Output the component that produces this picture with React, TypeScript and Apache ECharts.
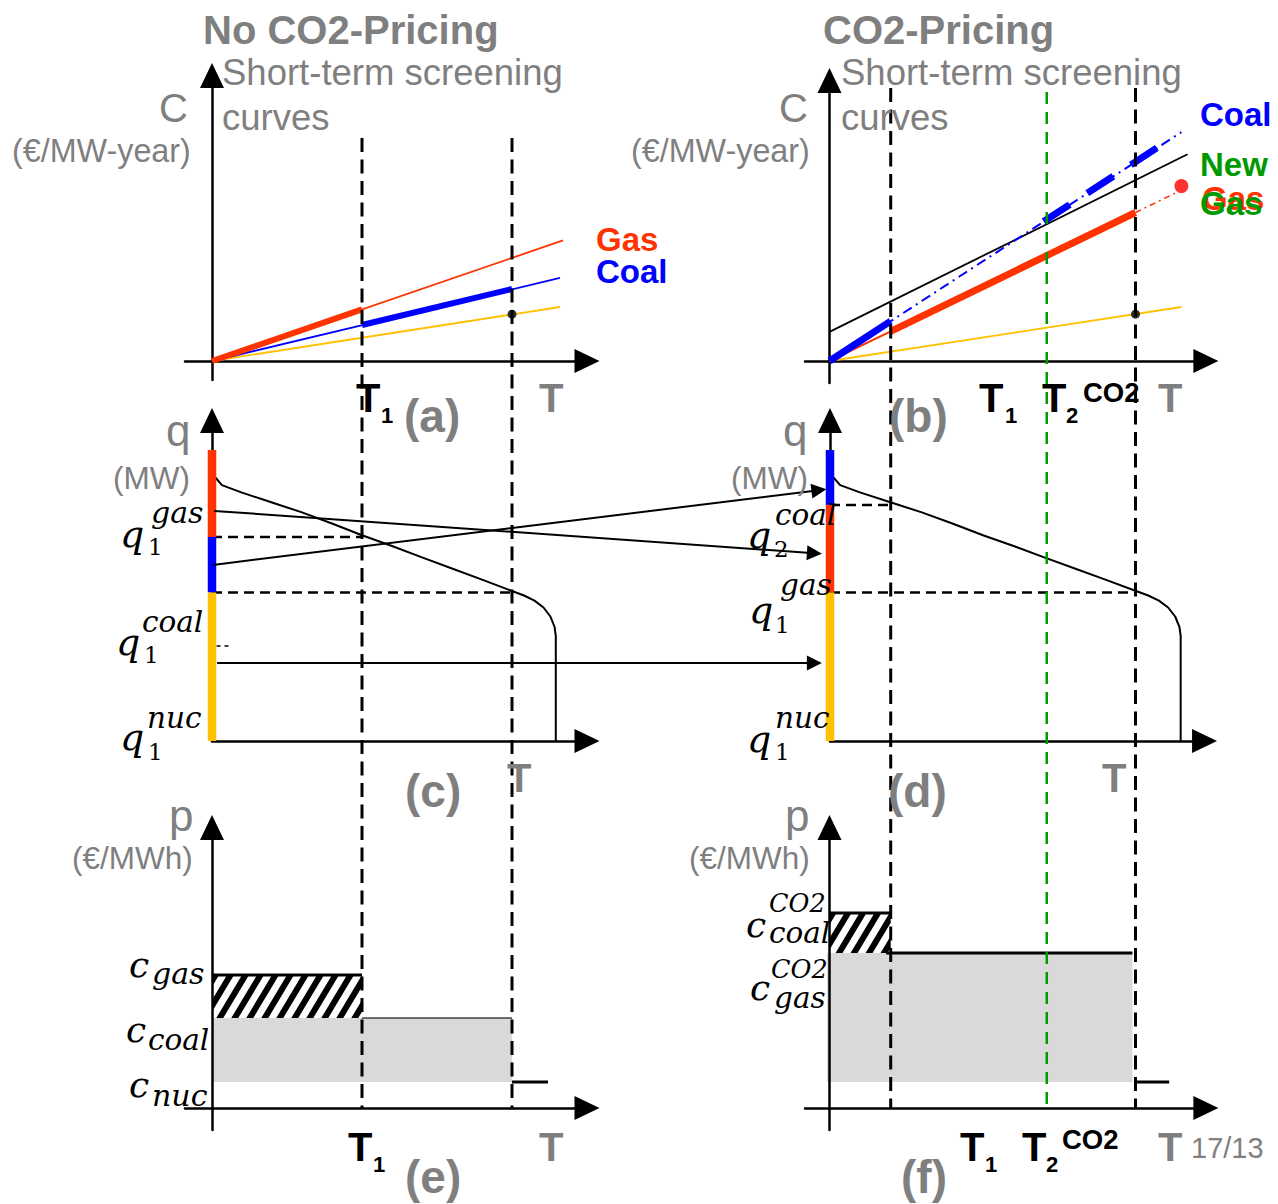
import React, { useEffect, useRef } from "react";
import * as echarts from "echarts";

// ================= DATA (schematic units: T axis with T = 100 = length of the year) =================
const T_YEAR = 100;
const T1_NOCO2 = 50;
const T1_CO2 = 20;
const T2_CO2 = 71;

// (a) short-term screening curves, no CO2 pricing  [T, C]
const gasA = [[0, 0], [117, 40.2]];
const gasA_base = [[0, 0], [50, 17.2]];
const coalA = [[0, 0], [116, 27.7]];
const coalA_base = [[50, 12], [100, 24]];
const nucA = [[0, 0], [116, 18]];
const nucDotA = [[100, 15.6]];

// (b) short-term screening curves, CO2 pricing
const newGasB = [[0, 9.7], [117, 68.9]];
const coalB = [[0, 0], [115, 76.3]];
const coalB_peak = [[0, 0], [20, 13.3]];
const coalB_dashThick = [[70, 46.5], [108, 71.7]];
const gasB = [[0, 0], [20, 9.9]];
const gasB_mid = [[20, 9.9], [100, 49.5]];
const gasB_ext = [[100, 49.5], [113.5, 56.2]];
const gasDotB = [[115, 58.3]];
const nucB = [[0, 0], [115, 18]];
const nucDotB = [[100, 15.6]];

// (c), (d) load duration curve [T, q] and capacity stacks
const ldc = [
  [0.3, 91], [1, 88], [3.3, 85.3], [10, 82.8], [20, 79.5], [30, 76.2], [40, 72.5], [50, 68.6],
  [60, 65], [70, 61.2], [80, 57.5], [90, 53.8], [100, 50], [104, 48.5], [107.5, 46.8],
  [110.5, 44.5], [112.8, 41.5], [114.2, 38], [114.6, 35], [114.6, 0],
];
const qGas1 = 68;
const qCoal1 = 49.5;
const qCoal2 = 78.7;
const qTop = 97;
const stackC = [
  { name: "gas", from: qGas1, to: qTop },
  { name: "coal", from: qCoal1, to: qGas1 },
  { name: "nuc", from: 0, to: qCoal1 },
];
const stackD = [
  { name: "coal", from: qCoal2, to: qTop },
  { name: "gas", from: qCoal1, to: qCoal2 },
  { name: "nuc", from: 0, to: qCoal1 },
];
const dashC = [[[0, qGas1], [T1_NOCO2, qGas1]], [[0, qCoal1], [T_YEAR, qCoal1]]];
const dashD = [[[0, qCoal2], [T1_CO2, qCoal2]], [[0, qCoal1], [T_YEAR, qCoal1]]];
const tinyDashC = [[1.5, 31.7], [6.3, 31.7]];
// capacity transfers (c) -> (d): [from, to] in connector units (x) and q (y)
const transfers = [
  { from: [0.7, 76.7], to: [200.8, 62.6] },
  { from: [0.3, 58.7], to: [202.3, 83.6] },
  { from: [1.7, 26], to: [200.8, 26] },
];

// (e), (f) prices [T, p]
const cGas = 44.3;
const cCoal = 30;
const cNuc = 8.7;
const cCoalCO2 = 65;
const cGasCO2 = 51.7;
const hatchE = [[0, T1_NOCO2, cCoal, cGas]];
const grayE = [[0, T_YEAR, cNuc, cCoal]];
const topE = [[0, cGas], [T1_NOCO2, cGas]];
const coalLineE = [[T1_NOCO2, cCoal], [T_YEAR, cCoal]];
const nucStubE = [[T_YEAR, cNuc], [112, cNuc]];
const hatchF = [[0, T1_CO2, cGasCO2, cCoalCO2]];
const grayF = [[-0.8, 99, cNuc, cGasCO2]];
const topF = [[0, cCoalCO2], [T1_CO2, cCoalCO2]];
const gasLineF = [[18.5, cGasCO2], [99, cGasCO2]];
const nucStubF = [[T_YEAR, cNuc], [111, cNuc]];

// ================= STYLE / LAYOUT =================
const COL: Record<string, string> = { gas: "#FF3300", coal: "#0000FF", nuc: "#FFC000" };
const GREEN = "#009900";
const GRAY = "#7F7F7F";
const SANS = "'Liberation Sans', Arial, sans-serif";
const SERIF = "'DejaVu Serif', serif";

type Panel = { ox: number; oy: number; sx: number; sy: number; x: number[]; y: number[] };
const PANELS: Panel[] = [
  { ox: 212, oy: 361, sx: 3, sy: 3, x: [-9, 125], y: [-6.3, 95.2] }, // a
  { ox: 829.5, oy: 361, sx: 3.06, sy: 3, x: [-8, 123], y: [-7.3, 93.5] }, // b
  { ox: 212, oy: 741, sx: 3, sy: 3, x: [0, 125], y: [0, 106.8] }, // c
  { ox: 830, oy: 741, sx: 3.06, sy: 3, x: [0, 122.4], y: [0, 106.8] }, // d
  { ox: 212, oy: 1108, sx: 3, sy: 3, x: [-9, 125], y: [-7.3, 93.5] }, // e
  { ox: 829.5, oy: 1108, sx: 3.06, sy: 3, x: [-8, 123], y: [-7.3, 93.5] }, // f
  { ox: 212, oy: 1108, sx: 3, sy: 970, x: [-9, 125], y: [0, 1] }, // left verticals
  { ox: 829.5, oy: 1108, sx: 3.06, sy: 1020, x: [-8, 123], y: [0, 1] }, // right verticals
  { ox: 212, oy: 741, sx: 3, sy: 3, x: [0, 206], y: [0, 106.8] }, // connector (c)->(d)
];

function line(gi: number, data: number[][], color: string, width: number, type: any = "solid", z = 2) {
  return {
    type: "line", xAxisIndex: gi, yAxisIndex: gi, data, symbol: "none", showSymbol: false,
    clip: false, silent: true, z, lineStyle: { color, width, type, cap: "butt" },
  };
}
function dot(gi: number, data: number[][], color: string, size: number) {
  return {
    type: "scatter", xAxisIndex: gi, yAxisIndex: gi, data, symbol: "circle", symbolSize: size,
    itemStyle: { color }, silent: true, z: 4, clip: false,
  };
}
function rectSeries(gi: number, rects: number[][], fill: string) {
  return {
    type: "custom", xAxisIndex: gi, yAxisIndex: gi, data: rects, silent: true, clip: false, z: 1,
    renderItem: (_p: any, api: any) => {
      const a = api.coord([api.value(0), api.value(3)]);
      const b = api.coord([api.value(1), api.value(2)]);
      return { type: "rect", shape: { x: a[0], y: a[1], width: b[0] - a[0], height: b[1] - a[1] }, style: { fill } };
    },
  };
}
function clipAxis(pts: number[][], axis: number, bound: number, keepGreater: boolean) {
  const res: number[][] = [];
  for (let i = 0; i < pts.length; i++) {
    const a = pts[i];
    const b = pts[(i + 1) % pts.length];
    const ina = keepGreater ? a[axis] >= bound : a[axis] <= bound;
    const inb = keepGreater ? b[axis] >= bound : b[axis] <= bound;
    if (ina) res.push(a);
    if (ina !== inb) {
      const t = (bound - a[axis]) / (b[axis] - a[axis]);
      res.push([a[0] + t * (b[0] - a[0]), a[1] + t * (b[1] - a[1])]);
    }
  }
  return res;
}
function hatchSeries(gi: number, rects: number[][]) {
  return {
    type: "custom", xAxisIndex: gi, yAxisIndex: gi, data: rects, silent: true, clip: false, z: 1.5,
    renderItem: (_p: any, api: any) => {
      const tl = api.coord([api.value(0), api.value(3)]);
      const br = api.coord([api.value(1), api.value(2)]);
      const x0 = tl[0], y0 = tl[1], x1 = br[0], y1 = br[1];
      const h = y1 - y0;
      const k = 0.6;
      const period = 15;
      const bw = 7;
      const children: any[] = [
        { type: "rect", shape: { x: x0, y: y0, width: x1 - x0, height: h }, style: { fill: "#fff" } },
      ];
      for (let c = x0 - h * k - period; c < x1 + period; c += period) {
        let poly = [[c, y1], [c + bw, y1], [c + bw + h * k, y0], [c + h * k, y0]];
        poly = clipAxis(poly, 0, x0, true);
        if (poly.length) poly = clipAxis(poly, 0, x1, false);
        if (poly.length) poly = clipAxis(poly, 1, y0, true);
        if (poly.length) poly = clipAxis(poly, 1, y1, false);
        if (poly.length >= 3) children.push({ type: "polygon", shape: { points: poly }, style: { fill: "#000" } });
      }
      return { type: "group", children };
    },
  };
}

function txt(text: string, x: number, y: number, size: number, color: string, weight = "normal", family = SANS, fstyle = "normal") {
  return {
    type: "text", x, y, silent: true, z: 100,
    style: {
      text, fill: color, fontSize: size, fontFamily: family, fontWeight: weight, fontStyle: fstyle,
      textAlign: "left", textVerticalAlign: "middle", align: "left", verticalAlign: "middle",
    },
  };
}
const B = "bold";
const math = (text: string, x: number, y: number, size: number, italic = true) =>
  txt(text, x, y, size, "#000", "normal", SERIF, italic ? "italic" : "normal");

function buildOption(): any {
  const grid = PANELS.map((p) => ({
    left: p.ox + p.x[0] * p.sx,
    top: p.oy - p.y[1] * p.sy,
    width: (p.x[1] - p.x[0]) * p.sx,
    height: (p.y[1] - p.y[0]) * p.sy,
    containLabel: false,
    outerBoundsMode: "none",
  }));
  const axisCommon = (i: number) => ({
    show: i < 6,
    z: i >= 4 && i < 6 ? 5 : 0,
    axisLine: {
      show: true, onZero: true, symbol: ["none", "triangle"], symbolSize: [24, 25],
      lineStyle: { color: "#000", width: 2.5 },
    },
    axisTick: { show: false }, axisLabel: { show: false }, splitLine: { show: false },
  });
  const xAxis = PANELS.map((p, i) => ({ type: "value", gridIndex: i, min: p.x[0], max: p.x[1], ...axisCommon(i) }));
  const yAxis = PANELS.map((p, i) => ({ type: "value", gridIndex: i, min: p.y[0], max: p.y[1], ...axisCommon(i) }));

  const series: any[] = [];
  // (a)
  series.push(line(0, nucA, COL.nuc, 1.8));
  series.push(line(0, coalA, COL.coal, 1.8));
  series.push(line(0, gasA, COL.gas, 1.8));
  series.push(line(0, coalA_base, COL.coal, 6, "solid", 3));
  series.push(line(0, gasA_base, COL.gas, 6, "solid", 3));
  series.push(dot(0, nucDotA, "#000", 9));
  // (b)
  series.push(line(1, nucB, COL.nuc, 1.8));
  series.push(line(1, newGasB, "#000", 1.8));
  series.push(line(1, coalB, COL.coal, 2, [10, 5, 2, 5]));
  series.push(line(1, gasB, COL.gas, 2));
  series.push(line(1, gasB_mid, COL.gas, 7, "solid", 3));
  series.push(line(1, gasB_ext, COL.gas, 1.5, [6, 4, 2, 4]));
  series.push(line(1, coalB_peak, COL.coal, 7, "solid", 3));
  series.push(line(1, coalB_dashThick, COL.coal, 7, [31, 21], 3));
  series.push(dot(1, gasDotB, "#FF0000", 14));
  series.push(dot(1, nucDotB, "#000", 9));
  // (c)
  stackC.forEach((s) => series.push(line(2, [[0, s.from], [0, s.to]], COL[s.name], 8.5, "solid", 3)));
  series.push(line(2, ldc, "#000", 2));
  dashC.forEach((d) => series.push(line(2, d, "#000", 2.5, [10, 6])));
  series.push(line(2, tinyDashC, "#000", 1.5, [4, 4]));
  // (d)
  stackD.forEach((s) => series.push(line(3, [[0, s.from], [0, s.to]], COL[s.name], 8.5, "solid", 3)));
  series.push(line(3, ldc, "#000", 2));
  dashD.forEach((d) => series.push(line(3, d, "#000", 2.5, [10, 6])));
  // (e)
  series.push(rectSeries(4, grayE, "#D9D9D9"));
  series.push(hatchSeries(4, hatchE));
  series.push(line(4, topE, "#000", 3));
  series.push(line(4, coalLineE, "#404040", 1.5));
  series.push(line(4, nucStubE, "#000", 3));
  // (f)
  series.push(rectSeries(5, grayF, "#D9D9D9"));
  series.push(hatchSeries(5, hatchF));
  series.push(line(5, topF, "#000", 3));
  series.push(line(5, gasLineF, "#000", 3));
  series.push(line(5, nucStubF, "#000", 3));
  // vertical dashed lines
  [T1_NOCO2, T_YEAR].forEach((t) => series.push(line(6, [[t, 1], [t, 0]], "#000", 3, [14, 7.5], 6)));
  [T1_CO2, T_YEAR].forEach((t) => series.push(line(7, [[t, 1], [t, 0]], "#000", 3, [14, 7.5], 6)));
  series.push(line(7, [[T2_CO2, 0.996], [T2_CO2, 0.003]], GREEN, 2.5, [12, 8], 6));
  // transfers
  series.push({
    type: "lines", coordinateSystem: "cartesian2d", xAxisIndex: 8, yAxisIndex: 8, silent: true, z: 4,
    data: transfers.map((t) => ({ coords: [t.from, t.to] })),
    symbol: ["none", "triangle"], symbolSize: 15,
    lineStyle: { color: "#000", width: 2, opacity: 1, curveness: 0 },
  });

  const texts: any[] = [
    txt("No CO2-Pricing", 203, 30, 40, GRAY, B),
    txt("CO2-Pricing", 823, 30, 40, GRAY, B),
    txt("Short-term screening", 222, 72, 36.5, GRAY),
    txt("curves", 222, 117, 36.5, GRAY),
    txt("Short-term screening", 841, 72, 36.5, GRAY),
    txt("curves", 841, 117, 36.5, GRAY),
    txt("C", 159, 108, 40, GRAY),
    txt("C", 779, 108, 40, GRAY),
    txt("(€/MW-year)", 12, 151, 32.3, GRAY),
    txt("(€/MW-year)", 631, 151, 32.3, GRAY),
    txt("Gas", 596, 239, 33, COL.gas, B),
    txt("Coal", 596, 271, 33, COL.coal, B),
    txt("Coal", 1200, 114, 33, COL.coal, B),
    txt("New", 1200, 164, 33, GREEN, B),
    txt("Gas", 1202, 198, 33, COL.gas, B),
    txt("Gas", 1200, 203, 33, GREEN, B),
    // (a)
    txt("T", 356, 398, 40, "#000", B), txt("1", 381, 415, 22, "#000", B),
    txt("(a)", 404, 416, 46, GRAY, B), txt("T", 539, 398, 40, GRAY, B),
    // (b)
    txt("T", 979, 398, 40, "#000", B), txt("1", 1005, 415, 22, "#000", B),
    txt("T", 1042, 398, 40, "#000", B), txt("2", 1066, 415, 22, "#000", B),
    txt("CO2", 1083, 392, 27.5, "#000", B),
    txt("T", 1158, 398, 40, GRAY, B), txt("(b)", 889, 416, 46, GRAY, B),
    // (c)
    txt("q", 166, 430, 44, GRAY), txt("(MW)", 113, 478, 31.5, GRAY),
    txt("(c)", 405, 791, 46, GRAY, B), txt("T", 507, 778, 40, GRAY, B),
    // (d)
    txt("q", 783, 430, 44, GRAY), txt("(MW)", 731, 478, 31.5, GRAY),
    txt("(d)", 888, 791, 46, GRAY, B), txt("T", 1102, 778, 40, GRAY, B),
    // (e)
    txt("p", 169, 815, 44, GRAY), txt("(€/MWh)", 72, 858, 31.5, GRAY),
    txt("T", 348, 1147, 40, "#000", B), txt("1", 373, 1164, 22, "#000", B),
    txt("(e)", 405, 1177, 46, GRAY, B), txt("T", 539, 1147, 40, GRAY, B),
    // (f)
    txt("p", 785, 815, 44, GRAY), txt("(€/MWh)", 689, 858, 31.5, GRAY),
    txt("T", 960, 1147, 40, "#000", B), txt("1", 985, 1164, 22, "#000", B),
    txt("T", 1022, 1147, 40, "#000", B), txt("2", 1046, 1164, 22, "#000", B),
    txt("CO2", 1062, 1139, 27.5, "#000", B),
    txt("T", 1158, 1147, 40, GRAY, B), txt("17/13", 1191, 1148, 29, GRAY),
    txt("(f)", 901, 1177, 46, GRAY, B),
    // math labels (c)
    math("q", 120, 534, 38), math("1", 148, 547, 23, false), math("gas", 151, 512, 30),
    math("q", 116, 642, 38), math("1", 144, 655, 23, false), math("coal", 142, 622, 29.5),
    math("q", 120, 737, 38), math("1", 148, 752, 23, false), math("nuc", 147, 718, 29.5),
    // (d)
    math("q", 747, 535, 38), math("2", 774, 549, 23, false), math("coal", 775, 515, 29.5),
    math("q", 749, 610, 38), math("1", 775, 625, 23, false), math("gas", 780, 585, 29.5),
    math("q", 747, 739, 38), math("1", 775, 752, 23, false), math("nuc", 775, 718, 29.5),
    // (e)
    math("c", 129, 964, 36), math("gas", 152, 973, 30),
    math("c", 126, 1029, 36), math("coal", 148, 1040, 29.5),
    math("c", 129, 1084, 36), math("nuc", 152, 1095, 30),
    // (f)
    math("c", 746, 924, 36), math("CO2", 769, 903, 25.5), math("coal", 769, 933, 29.5),
    math("c", 750, 987, 36), math("CO2", 771, 969, 25.5), math("gas", 774, 998, 29.5),
  ];

  return {
    animation: false,
    backgroundColor: "#ffffff",
    grid, xAxis, yAxis, series,
    graphic: { elements: texts },
  };
}

export default function App() {
  const ref = useRef<HTMLDivElement>(null);
  useEffect(() => {
    if (!ref.current) return;
    const chart = echarts.init(ref.current, null, { renderer: "svg", width: 1278, height: 1204 });
    chart.setOption(buildOption());
    return () => chart.dispose();
  }, []);
  return (
    <div
      ref={ref}
      style={{ position: "fixed", left: 0, top: 0, width: 1278, height: 1204, background: "#fff" }}
    />
  );
}
